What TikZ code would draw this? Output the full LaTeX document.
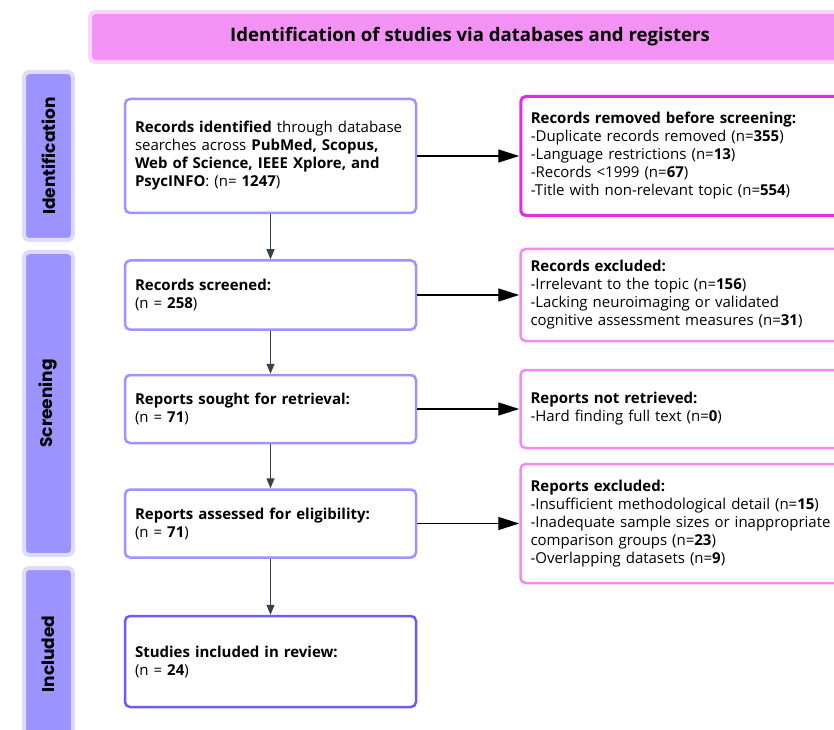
\documentclass[tikz,border=0pt]{standalone}
\usepackage{fontspec}
\setmainfont{Open Sans}
\newfontfamily\sidefont{Poppins}
\usetikzlibrary{positioning,arrows.meta}

\definecolor{bannerpink}{HTML}{F391F5}
\definecolor{bannerhalo}{HTML}{F8D6F8}
\definecolor{sideblue}{HTML}{9B94FF}
\definecolor{sidehalo}{HTML}{DEDBFF}
\definecolor{boxblue}{HTML}{9C95FF}
\definecolor{boxdeep}{HTML}{6C5CF5}
\definecolor{boxmagenta}{HTML}{E32BE8}
\definecolor{boxpink}{HTML}{F38AF3}
\definecolor{arrowgray}{HTML}{37414B}

\begin{document}
\begin{tikzpicture}[x=1pt,y=1pt,
    font=\fontsize{15}{18}\selectfont,
    flowbox/.style={draw=boxblue,line width=2.5pt,rounded corners=5pt,fill=white,
      minimum width=291pt,text width=271pt,inner sep=10pt,align=left},
    exclbox/.style={draw=boxpink,line width=2.5pt,rounded corners=5pt,fill=white,
      minimum width=342pt,text width=322pt,inner sep=10pt,align=left},
    sidebar/.style={fill=sideblue,draw=sidehalo,line width=4pt,rounded corners=5pt,
      rotate=90,minimum height=49pt,font=\sidefont\bfseries\fontsize{17}{18}\selectfont},
    toexcl/.style={-{Triangle[length=21pt,width=13pt]},line width=1.4pt,black},
    tonext/.style={-{Triangle[length=10pt,width=8pt]},line width=1.2pt,arrowgray}]
  \useasboundingbox (0,0) rectangle (834,729);
  \clip (0,0) rectangle (834,729);
  % header and phases
  \node[fill=bannerpink,draw=bannerhalo,line width=4pt,rounded corners=5pt,
    minimum width=760pt,minimum height=50pt,font=\bfseries\fontsize{18.6}{20}\selectfont]
    (head) at (470,692) {Identification of studies via databases and registers};
  \node[sidebar,minimum width=168pt] (p_id)  at (48.5,573)   {Identification};
  \node[sidebar,minimum width=303pt] (p_scr) at (48.5,325.5) {Screening};
  \node[sidebar,minimum width=172pt] (p_inc) at (48.5,75)    {Included};
  % main column
  \node[flowbox,minimum height=114pt] (r_id) at (270.5,573)
    {\textbf{Records identified} through database\\ searches across \textbf{PubMed, Scopus,}\\
     \textbf{Web of Science, IEEE Xplore, and}\\ \textbf{PsycINFO}: (n= \textbf{1247})};
  \node[flowbox,minimum height=69pt]  (r_scr) [below=45pt of r_id]
    {\textbf{Records screened:}\\ (n = \textbf{258})};
  \node[flowbox,minimum height=68pt]  (r_sou) [below=43pt of r_scr]
    {\textbf{Reports sought for retrieval:}\\ (n = \textbf{71})};
  \node[flowbox,minimum height=68pt]  (r_ass) [below=44pt of r_sou]
    {\textbf{Reports assessed for eligibility:}\\ (n = \textbf{71})};
  \node[flowbox,draw=boxdeep,minimum height=91pt] (r_inc) [below=56pt of r_ass]
    {\textbf{Studies included in review:}\\ (n = \textbf{24})};
  % excluded column
  \node[exclbox,draw=boxmagenta,line width=3pt,minimum height=119pt] (x_id) [right=102pt of r_id]
    {\textbf{Records removed before screening:}\\ -Duplicate records removed (n=\textbf{355})\\
     -Language restrictions (n=\textbf{13})\\ -Records <1999 (n=\textbf{67})\\
     -Title with non-relevant topic (n=\textbf{554})};
  \node[exclbox,minimum height=92pt]  (x_scr) [right=102pt of r_scr]
    {\textbf{Records excluded:}\\ -Irrelevant to the topic (n=\textbf{156})\\
     -Lacking neuroimaging or validated\\ cognitive assessment measures (n=\textbf{31})};
  \node[exclbox,minimum height=78pt]  (x_sou) [right=102pt of r_sou]
    {\textbf{Reports not retrieved:}\\ -Hard finding full text (n=\textbf{0})};
  \node[exclbox,minimum height=119pt] (x_ass) [right=102pt of r_ass]
    {\textbf{Reports excluded:}\\ -Insufficient methodological detail (n=\textbf{15})\\
     -Inadequate sample sizes or inappropriate\\ comparison groups (n=\textbf{23})\\
     -Overlapping datasets (n=\textbf{9})};
  % down edges
  \draw[tonext] (r_id)  -- (r_scr);
  \draw[tonext] (r_scr) -- (r_sou);
  \draw[tonext] (r_sou) -- (r_ass);
  \draw[tonext] (r_ass) -- (r_inc);
  % side edges
  \draw[toexcl] (r_id)  -- (x_id);
  \draw[toexcl] (r_scr) -- (x_scr);
  \draw[toexcl] (r_sou) -- (x_sou);
  \draw[toexcl] (r_ass) -- (x_ass);
\end{tikzpicture}
\end{document}
